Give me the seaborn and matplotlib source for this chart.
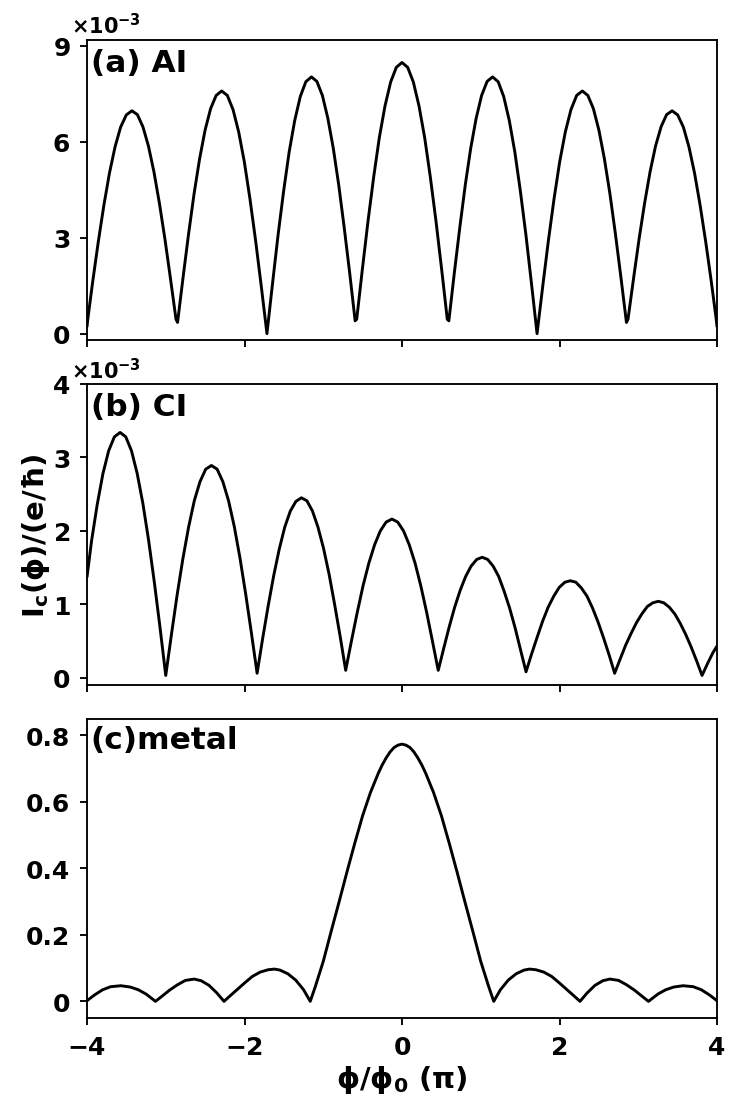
import numpy as np
import pandas as pd
import seaborn as sns
import matplotlib
matplotlib.use('Agg')
import matplotlib.pyplot as plt

# panel (a) AI, current in units of 1e-3
x_ai = [-4.0, -3.99, -3.929, -3.858, -3.786, -3.715, -3.644, -3.573, -3.501, -3.43,
        -3.36, -3.29, -3.22, -3.15, -3.08, -3.01, -2.94, -2.87,
        -2.85, -2.78, -2.71, -2.64, -2.57, -2.50, -2.43, -2.36, -2.29,
        -2.218, -2.146, -2.074, -2.002, -1.931, -1.859, -1.787, -1.715,
        -1.644, -1.574, -1.503, -1.433, -1.362, -1.291, -1.221, -1.15,
        -1.081, -1.011, -0.942, -0.872, -0.803, -0.734, -0.664, -0.595,
        -0.575, -0.503, -0.431, -0.359, -0.288, -0.216, -0.144, -0.072, 0.0,
        0.072, 0.144, 0.216, 0.288, 0.359, 0.431, 0.503, 0.575,
        0.595, 0.664, 0.734, 0.803, 0.872, 0.942, 1.011, 1.081, 1.15,
        1.221, 1.291, 1.362, 1.433, 1.503, 1.574, 1.644, 1.715,
        1.787, 1.859, 1.931, 2.002, 2.074, 2.146, 2.218, 2.29,
        2.36, 2.43, 2.50, 2.57, 2.64, 2.71, 2.78, 2.85,
        2.87, 2.94, 3.01, 3.08, 3.15, 3.22, 3.29, 3.36, 3.43,
        3.501, 3.573, 3.644, 3.715, 3.786, 3.858, 3.929, 3.99, 4.0]
y_ai = [0.22, 0.45, 1.6, 2.85, 4.01, 5.02, 5.84, 6.46, 6.84, 6.97,
        6.85, 6.47, 5.87, 5.06, 4.07, 2.95, 1.72, 0.45,
        0.35, 1.76, 3.12, 4.38, 5.47, 6.37, 7.04, 7.45, 7.59,
        7.45, 7.01, 6.31, 5.37, 4.22, 2.91, 1.48, 0.0,
        1.57, 3.08, 4.46, 5.68, 6.67, 7.42, 7.88, 8.03,
        7.89, 7.45, 6.74, 5.79, 4.64, 3.32, 1.89, 0.40,
        0.45, 2.02, 3.53, 4.91, 6.13, 7.12, 7.87, 8.33, 8.48,
        8.33, 7.87, 7.12, 6.13, 4.91, 3.53, 2.02, 0.45,
        0.40, 1.89, 3.32, 4.64, 5.79, 6.74, 7.45, 7.89, 8.03,
        7.88, 7.42, 6.67, 5.68, 4.46, 3.08, 1.57, 0.0,
        1.48, 2.91, 4.22, 5.37, 6.31, 7.01, 7.45, 7.59,
        7.45, 7.04, 6.37, 5.47, 4.38, 3.12, 1.76, 0.35,
        0.45, 1.72, 2.95, 4.07, 5.06, 5.87, 6.47, 6.85, 6.97,
        6.84, 6.46, 5.84, 5.02, 4.01, 2.85, 1.6, 0.45, 0.22]

# panel (b) CI, units of 1e-3
x_ci = [-4.0, -3.9425, -3.87, -3.7975, -3.725, -3.6525, -3.58,
        -3.5075, -3.435, -3.3625, -3.29, -3.2175, -3.145, -3.0725, -3.0,
        -2.9275, -2.855, -2.7825, -2.71, -2.6375, -2.565, -2.4925, -2.42,
        -2.3475, -2.275, -2.2025, -2.13, -2.0575, -1.985, -1.9125, -1.84,
        -1.770, -1.699, -1.629, -1.559, -1.489, -1.418, -1.348, -1.278,
        -1.208, -1.137, -1.067, -0.996, -0.926, -0.856, -0.785, -0.715,
        -0.642, -0.568, -0.495, -0.421, -0.348, -0.275, -0.201, -0.128,
        -0.055, 0.019, 0.092, 0.166, 0.239, 0.313, 0.386, 0.46,
        0.530, 0.599, 0.669, 0.739, 0.809, 0.878, 0.948, 1.018,
        1.088, 1.157, 1.227, 1.296, 1.366, 1.436, 1.505, 1.575,
        1.645, 1.716, 1.786, 1.856, 1.927, 1.997, 2.068, 2.138,
        2.208, 2.279, 2.349, 2.419, 2.489, 2.560, 2.630, 2.70,
        2.769, 2.839, 2.908, 2.978, 3.047, 3.116, 3.186, 3.255,
        3.324, 3.394, 3.463, 3.533, 3.602, 3.671, 3.741, 3.81,
        3.879, 3.948, 4.0]
y_ci = [1.37, 1.86, 2.36, 2.78, 3.09, 3.28, 3.34,
        3.28, 3.09, 2.78, 2.37, 1.87, 1.30, 0.68, 0.03,
        0.59, 1.13, 1.62, 2.05, 2.41, 2.67, 2.84, 2.89,
        2.84, 2.67, 2.41, 2.06, 1.63, 1.14, 0.61, 0.06,
        0.53, 0.98, 1.39, 1.75, 2.05, 2.27, 2.40, 2.45,
        2.41, 2.27, 2.05, 1.76, 1.41, 1.0, 0.56, 0.10,
        0.50, 0.89, 1.25, 1.56, 1.81, 2.0, 2.12, 2.16,
        2.12, 2.0, 1.81, 1.56, 1.25, 0.89, 0.50, 0.10,
        0.40, 0.69, 0.96, 1.19, 1.38, 1.52, 1.61, 1.64,
        1.61, 1.52, 1.38, 1.18, 0.95, 0.68, 0.38, 0.08,
        0.32, 0.55, 0.77, 0.96, 1.11, 1.23, 1.30, 1.32,
        1.30, 1.22, 1.11, 0.95, 0.76, 0.54, 0.31, 0.06,
        0.25, 0.44, 0.60, 0.75, 0.87, 0.97, 1.02, 1.04,
        1.02, 0.96, 0.87, 0.74, 0.59, 0.42, 0.23, 0.03,
        0.19, 0.34, 0.43]

# panel (c) metal
x_metal = [-4.0, -3.9, -3.8, -3.7, -3.57, -3.45, -3.35, -3.25, -3.13,
           -3.05, -2.95, -2.85, -2.75, -2.64, -2.55, -2.45, -2.35, -2.26,
           -2.2, -2.1, -2.0, -1.9, -1.8, -1.7, -1.62, -1.55, -1.45, -1.35, -1.25, -1.165,
           -1.1, -1.0, -0.9, -0.8, -0.7, -0.6, -0.5, -0.4, -0.3, -0.25, -0.2, -0.15, -0.1, -0.05, 0.0,
           0.05, 0.1, 0.15, 0.2, 0.25, 0.3, 0.4, 0.5, 0.6, 0.7, 0.8, 0.9, 1.0, 1.1, 1.165,
           1.25, 1.35, 1.45, 1.55, 1.62, 1.7, 1.8, 1.9, 2.0, 2.1, 2.2, 2.26,
           2.35, 2.45, 2.55, 2.64, 2.75, 2.85, 2.95, 3.05, 3.13,
           3.25, 3.35, 3.45, 3.57, 3.7, 3.8, 3.9, 4.0]
y_metal = [0.002, 0.02, 0.035, 0.044, 0.047, 0.043, 0.035, 0.022, 0.0,
           0.015, 0.034, 0.05, 0.063, 0.067, 0.062, 0.048, 0.025, 0.0,
           0.013, 0.034, 0.055, 0.075, 0.088, 0.095, 0.097, 0.094, 0.083, 0.064, 0.035, 0.0,
           0.045, 0.12, 0.21, 0.298, 0.388, 0.475, 0.558, 0.628, 0.686, 0.711, 0.732, 0.750, 0.763, 0.770, 0.773,
           0.770, 0.763, 0.750, 0.732, 0.711, 0.686, 0.628, 0.558, 0.475, 0.388, 0.298, 0.21, 0.12, 0.045, 0.0,
           0.035, 0.064, 0.083, 0.094, 0.097, 0.095, 0.088, 0.075, 0.055, 0.034, 0.013, 0.0,
           0.025, 0.048, 0.062, 0.067, 0.063, 0.05, 0.034, 0.015, 0.0,
           0.022, 0.035, 0.043, 0.047, 0.044, 0.035, 0.02, 0.002]

labels = ['(a) AI', '(b) CI', '(c)metal']
ylims = [(-0.2e-3, 9.2e-3), (-0.1e-3, 4e-3), (-0.05, 0.85)]
yticks = [[0, 3e-3, 6e-3, 9e-3], [0, 1e-3, 2e-3, 3e-3, 4e-3], [0, 0.2, 0.4, 0.6, 0.8]]

df_ai = pd.DataFrame({'phi': x_ai, 'Ic': np.array(y_ai) * 1e-3})
df_ci = pd.DataFrame({'phi': x_ci, 'Ic': np.array(y_ci) * 1e-3})
df_metal = pd.DataFrame({'phi': x_metal, 'Ic': y_metal})

sns.set_theme(style='ticks', rc={'axes.edgecolor': 'black', 'text.color': 'black',
                                 'xtick.color': 'black', 'ytick.color': 'black',
                                 'axes.labelcolor': 'black'})
plt.rcParams['font.family'] = ['DejaVu Sans']
plt.rcParams['font.weight'] = 'bold'
plt.rcParams['axes.labelweight'] = 'bold'
plt.rcParams['mathtext.default'] = 'bf'
plt.rcParams['xtick.labelsize'] = 12
plt.rcParams['ytick.labelsize'] = 12
plt.rcParams['axes.linewidth'] = 0.9
for ax_name in ['xtick', 'ytick']:
    plt.rcParams[ax_name + '.major.size'] = 3.5
    plt.rcParams[ax_name + '.major.width'] = 0.9
    plt.rcParams[ax_name + '.major.pad'] = 4.5

fig = plt.figure(figsize=(4.98, 7.4533), dpi=150)
W, H = 747, 1118
boxes = [(341, 300.5), (686, 301), (1019, 299.5)]
axes = []
for bot, hgt in boxes:
    axes.append(fig.add_axes([87 / W, (H - bot) / H, 630 / W, hgt / H]))

for i, (ax, df) in enumerate(zip(axes, [df_ai, df_ci, df_metal])):
    sns.lineplot(data=df, x='phi', y='Ic', ax=ax, color='black', lw=1.4,
                 estimator=None, sort=False)
    ax.set_xlim(-4, 4)
    ax.set_ylim(*ylims[i])
    ax.set_yticks(yticks[i])
    ax.set_xticks([-4, -2, 0, 2, 4])
    ax.set_xlabel('')
    ax.set_ylabel('')
    ax.text(0.006, 0.972 if i < 2 else 0.978, labels[i], transform=ax.transAxes,
            ha='left', va='top', fontsize=15, fontweight='bold')
    if i < 2:
        ax.ticklabel_format(axis='y', style='sci', scilimits=(0, 0), useMathText=True)
        ot = ax.yaxis.get_offset_text()
        ot.set_fontsize(10)
        ot.set_fontweight('bold')
        ot.set_verticalalignment('baseline')
        ot.set_x(-0.025)
        ax.tick_params(axis='x', labelbottom=False)
    else:
        ax.set_yticklabels(['0', '0.2', '0.4', '0.6', '0.8'])

axes[1].set_ylabel(r'$I_c(\phi)/(e/\hbar)$', fontsize=14, labelpad=0)
axes[2].set_xlabel(r'$\phi/\phi_0$ $(\pi)$', fontsize=14, labelpad=2)

plt.savefig('out.png', dpi=150)
